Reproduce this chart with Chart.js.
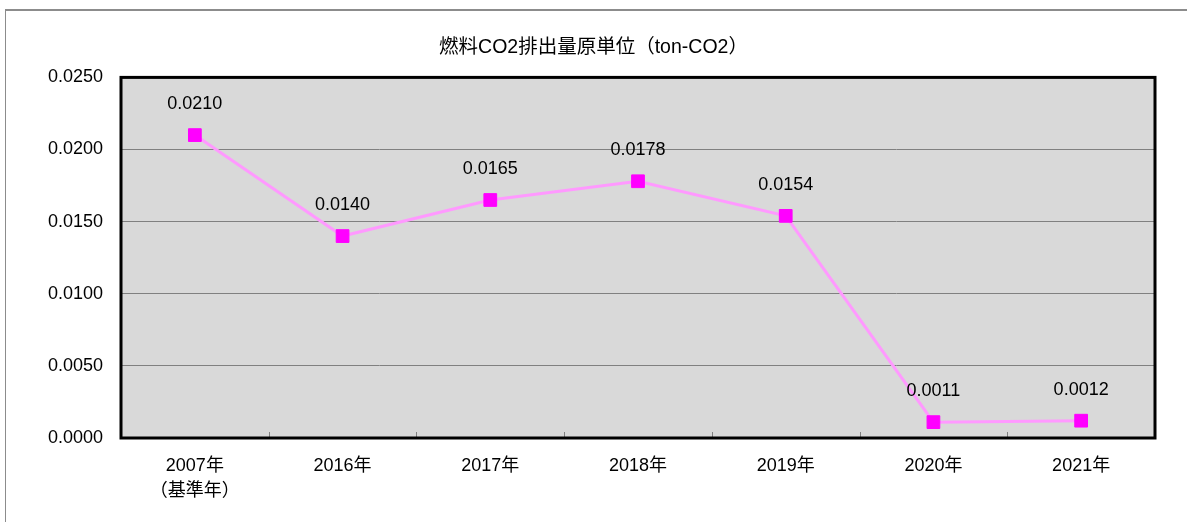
<!DOCTYPE html>
<html>
<head>
<meta charset="utf-8">
<script src="https://cdn.jsdelivr.net/npm/chart.js@4"></script>
<style>
  html, body { margin: 0; padding: 0; background: #ffffff; }
  #wrap { position: relative; width: 1187px; height: 522px; overflow: hidden; }
  #frame { position: absolute; left: 5px; top: 9px; width: 1200px; height: 600px;
           border-left: 1.5px solid #8c8c8c; border-top: 2px solid #8c8c8c; }
  canvas { position: absolute; left: 0; top: 0; }
</style>
</head>
<body>
<div id="wrap">
  <div id="frame"></div>
  <canvas id="c" width="1187" height="522"></canvas>
</div>
<script>
const categories = [['2007年', '（基準年）'], '2016年', '2017年', '2018年', '2019年', '2020年', '2021年'];
const values = [0.0210, 0.0140, 0.0165, 0.0178, 0.0154, 0.0011, 0.0012];
const yTicks = [0, 0.005, 0.010, 0.015, 0.020, 0.025];
const chartTitle = '燃料CO2排出量原単位（ton-CO2）';

const FONT = '"Liberation Sans", "Noto Sans CJK JP", sans-serif';

const plotFrame = {
  id: 'plotFrame',
  beforeDraw(chart) {
    const a = chart.chartArea, ctx = chart.ctx;
    ctx.save();
    ctx.fillStyle = '#d9d9d9';
    ctx.fillRect(a.left, a.top, a.right - a.left, a.bottom - a.top);
    ctx.restore();
  },
  beforeDatasetsDraw(chart) {
    const a = chart.chartArea, ctx = chart.ctx, xs = chart.scales.x;
    ctx.save();
    ctx.strokeStyle = '#808080';
    ctx.lineWidth = 1;
    for (let i = 1; i < categories.length; i++) {
      const x = Math.round((xs.getPixelForValue(i - 1) + xs.getPixelForValue(i)) / 2) + 0.5;
      ctx.beginPath();
      ctx.moveTo(x, a.bottom);
      ctx.lineTo(x, a.bottom - 6);
      ctx.stroke();
    }
    ctx.strokeStyle = '#000000';
    ctx.lineWidth = 3;
    ctx.strokeRect(a.left, a.top, a.right - a.left, a.bottom - a.top);
    ctx.restore();
  },
  afterDatasetsDraw(chart) {
    const ctx = chart.ctx;
    const meta = chart.getDatasetMeta(0);
    ctx.save();
    ctx.fillStyle = '#000000';
    ctx.font = '18px ' + FONT;
    ctx.textAlign = 'center';
    ctx.textBaseline = 'middle';
    meta.data.forEach((pt, i) => {
      ctx.fillText(values[i].toFixed(4), pt.x, pt.y - 31);
    });
    ctx.restore();
  }
};

new Chart(document.getElementById('c'), {
  type: 'line',
  data: {
    labels: categories,
    datasets: [{
      data: values,
      borderColor: '#ff99ff',
      borderWidth: 3,
      pointStyle: 'rect',
      pointRadius: 9,
      pointHoverRadius: 9,
      pointBackgroundColor: '#ff00ff',
      pointBorderColor: '#ff00ff',
      pointBorderWidth: 1,
      tension: 0,
      fill: false
    }]
  },
  options: {
    responsive: false,
    animation: false,
    devicePixelRatio: 1,
    layout: { padding: { left: 32, right: 32, top: 0, bottom: 0 } },
    plugins: {
      legend: { display: false },
      tooltip: { enabled: false },
      title: {
        display: true,
        text: chartTitle,
        color: '#000000',
        font: { family: FONT, size: 19.5, weight: 'normal', lineHeight: 1.2 },
        padding: { top: 36, bottom: 18 }
      }
    },
    scales: {
      x: {
        offset: true,
        grid: { display: false },
        border: { display: false },
        ticks: {
          color: '#000000',
          font: { family: FONT, size: 18, lineHeight: 1.4 },
          padding: 7,
          maxRotation: 0,
          autoSkip: false
        },
        afterFit(scale) { scale.height = 84; }
      },
      y: {
        min: 0,
        max: 0.025,
        afterBuildTicks(scale) { scale.ticks = yTicks.map(v => ({ value: v })); },
        grid: { color: '#808080', lineWidth: 1, drawTicks: false },
        border: { display: false },
        ticks: {
          color: '#000000',
          font: { family: FONT, size: 18 },
          padding: 18,
          callback: v => Number(v).toFixed(4)
        },
        afterFit(scale) { scale.width = 89; }
      }
    }
  },
  plugins: [plotFrame]
});
</script>
</body>
</html>
